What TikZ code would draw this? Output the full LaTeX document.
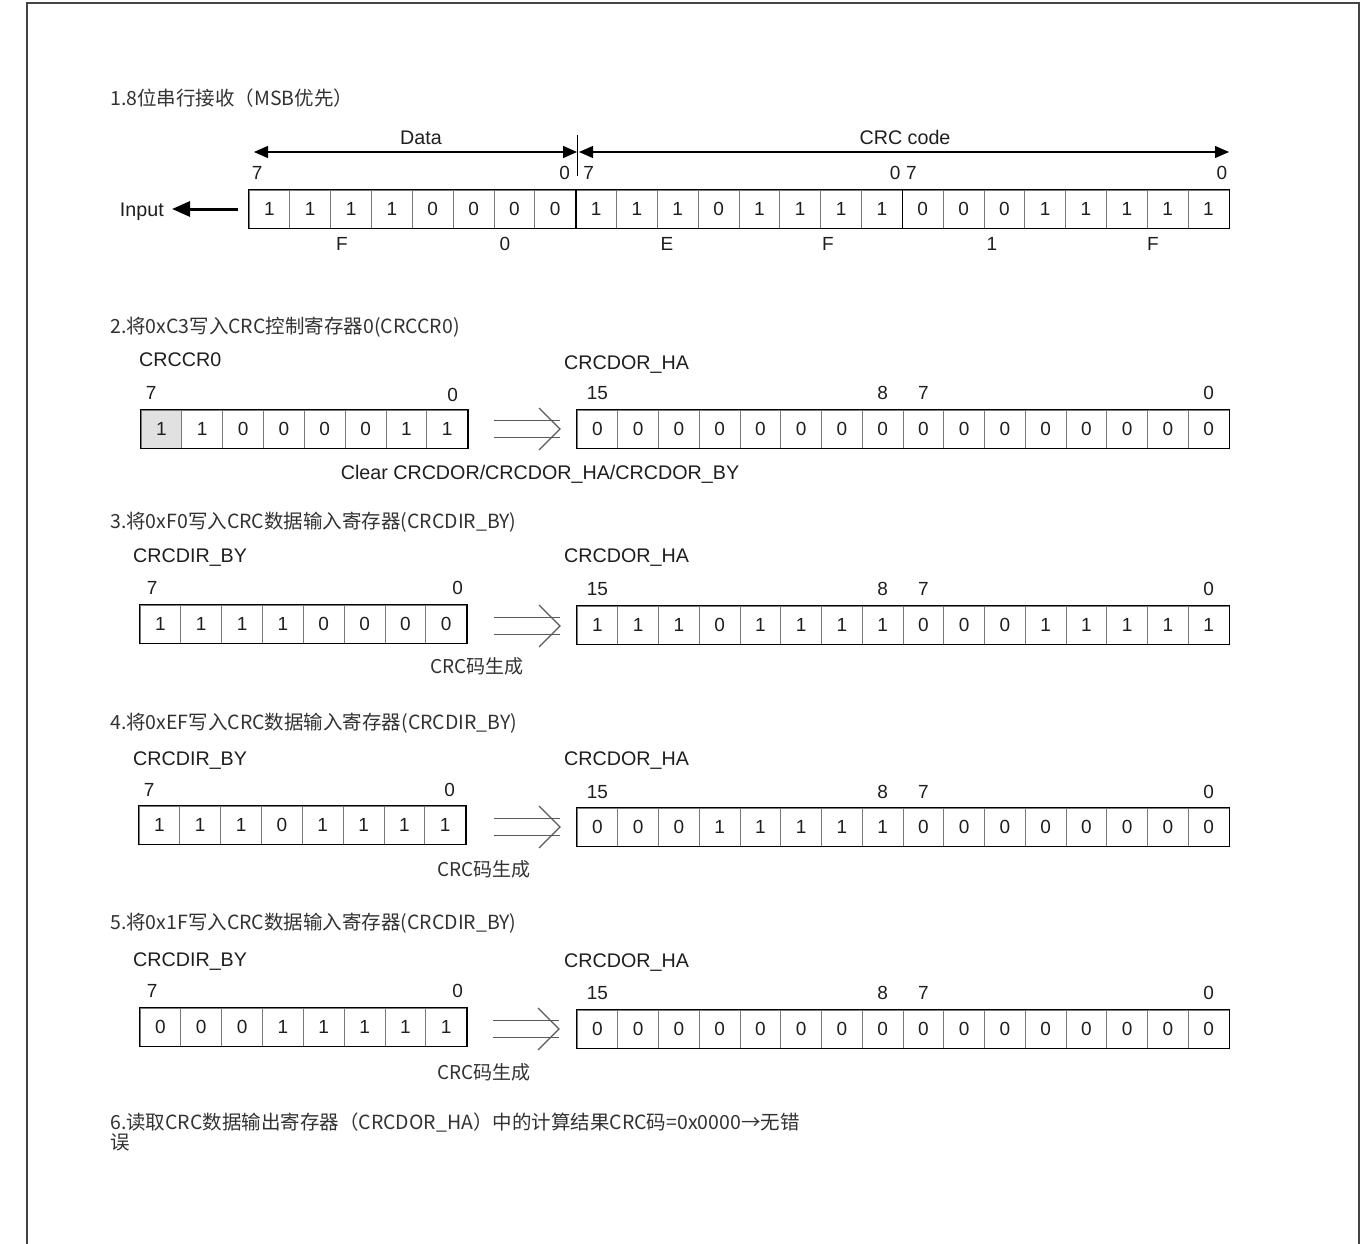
\documentclass[tikz,border=0pt]{standalone}
\usepackage{fontspec}
\setmainfont{Liberation Sans}
\newfontfamily\cjk{Noto Sans CJK SC}
\usepackage{tikz}
\usetikzlibrary{arrows.meta, positioning, calc}
\definecolor{cFrame}{RGB}{68,68,68}
\definecolor{cGrid}{RGB}{120,120,120}
\definecolor{cText}{RGB}{30,30,30}
\definecolor{cTitle}{RGB}{50,50,50}
\definecolor{cShade}{RGB}{225,225,225}
\definecolor{cImp}{RGB}{90,90,90}
\tikzset{
	pageframe/.style={draw=cFrame, line width=2pt},
	bitcell/.style={rectangle, draw=cGrid, line width=0.8pt, minimum width=40.83pt, minimum height=38pt, inner sep=0pt, text centered, font=\fontsize{19}{19}\selectfont, text=cText},
	regframe/.style={draw=black, line width=1.6pt},
	idxlabel/.style={inner sep=0pt, font=\fontsize{19}{19}\selectfont, text=cText},
	reglabel/.style={inner sep=0pt, anchor=base west, font=\fontsize{19.7}{19.7}\selectfont, text=cText},
	spanlabel/.style={inner sep=0pt, font=\fontsize{19.7}{19.7}\selectfont, text=cText},
	steptitle/.style={inner sep=0pt, anchor=base west, align=left, font=\cjk\fontsize{19.5}{20}\selectfont, text=cTitle},
	note/.style={inner sep=0pt, anchor=base, font=\cjk\fontsize{19}{20}\selectfont, text=cTitle},
	spanarrow/.style={{Triangle[length=14pt, width=12pt]}-{Triangle[length=14pt, width=12pt]}, line width=1.2pt},
	inarrow/.style={-{Triangle[length=18pt, width=15pt]}, line width=3pt},
	impline/.style={draw=cImp, line width=1.2pt},
	% open double arrow between two registers
	bigimplies/.pic={
		\draw[impline] (0,-8.5) -- (66,-8.5) (0,8.5) -- (66,8.5);
		\draw[impline] (45,-21) -- (66,0) -- (45,21);
	},
}
\begin{document}
\begin{tikzpicture}[x=1pt, y=-1pt]
	\useasboundingbox (0,0) rectangle (1370,1244);
	\draw[pageframe] (27,1244) -- (27,3) -- (1359,3) -- (1359,1244);

	% 1. serial reception
	\node[steptitle] (t1) at (110,106) {1.8位串行接收（MSB优先）};
	\foreach \b [count=\i] in {1,1,1,1,0,0,0,0,1,1,1,0,1,1,1,1,0,0,0,1,1,1,1,1}
		\node[bitcell] (s\i) at ({249+(\i-0.5)*40.83},209) {\b};
	\draw[regframe] (s1.north west) rectangle (s24.south east);
	\draw[regframe] (s8.north east) -- (s8.south east);
	\draw[regframe] (s16.north east) -- (s16.south east);
	\node[idxlabel, above right=9.5pt and 3pt of s1.north west] {7};
	\node[idxlabel, above left=9.5pt and 6pt of s8.north east] {0};
	\node[idxlabel, above right=9.5pt and 8pt of s9.north west] {7};
	\node[idxlabel, above left=9.5pt and 2pt of s16.north east] {0};
	\node[idxlabel, above right=9.5pt and 4pt of s17.north west] {7};
	\node[idxlabel, above left=9.5pt and 2pt of s24.north east] {0};
	\foreach \h/\x in {F/342, 0/505, E/667, F/828, 1/992, F/1153}
		\node[idxlabel] at (\x,244) {\h};
	\coordinate (dataL) at (254,152);
	\coordinate (split) at (577,152);
	\coordinate (crcL) at (579,152);
	\coordinate (crcR) at (1229,152);
	\draw[spanarrow] (dataL) -- (split);
	\draw[spanarrow] (crcL) -- (crcR);
	\draw[line width=0.8pt] ($(split)+(0,-17)$) -- ($(split)+(0,24)$);
	\node[spanlabel] (data) at (421,138) {Data};
	\node[spanlabel] (crc) at (905,137) {CRC code};
	\node[reglabel, anchor=base east] (input) at (164,216) {Input};
	\draw[inarrow, shorten <=11pt, shorten >=8pt] (s1.west) -- (s1.west -| input.east);

	% 2. write 0xC3 to CRCCR0
	\node[steptitle] (t2) at (110,333) {2.将0xC3写入CRC控制寄存器0(CRCCR0)};
	\node[reglabel] (ccr) at (139,366) {CRCCR0};
	\node[bitcell, fill=cShade] (a2-1) at ({141+0.5*40.83},429) {1};
	\foreach \b [count=\i from 2] in {1,0,0,0,0,1,1}
		\node[bitcell] (a2-\i) at ({141+(\i-0.5)*40.83},429) {\b};
	\draw[regframe] (a2-1.north west) rectangle (a2-8.south east);
	\node[idxlabel, above right=9.5pt and 5pt of a2-1.north west] {7};
	\node[idxlabel, above left=8pt and 10pt of a2-8.north east] {0};
	\pic at ($(a2-8.east)+(26,0)$) {bigimplies};
	\node[reglabel] (dor2) at (564,369) {CRCDOR\_HA};
	\foreach \b [count=\i] in {0,0,0,0,0,0,0,0,0,0,0,0,0,0,0,0}
		\node[bitcell] (b2-\i) at ({577+(\i-0.5)*40.75},429) {\b};
	\draw[regframe] (b2-1.north west) rectangle (b2-16.south east);
	\foreach \i/\lab in {1/15, 8/8, 9/7, 16/0}
		\node[idxlabel, above=9.5pt of b2-\i] {\lab};
	\node[spanlabel, anchor=base] (clr) at (540,479) {Clear CRCDOR/CRCDOR\_HA/CRCDOR\_BY};

	% 3. write 0xF0 to CRCDIR_BY
	\node[steptitle] (t3) at (110,528) {3.将0xF0写入CRC数据输入寄存器(CRCDIR\_BY)};
	\node[reglabel] (dir3) at (133,562) {CRCDIR\_BY};
	\foreach \b [count=\i] in {1,1,1,1,0,0,0,0}
		\node[bitcell] (a3-\i) at ({140+(\i-0.5)*40.83},624) {\b};
	\draw[regframe] (a3-1.north west) rectangle (a3-8.south east);
	\node[idxlabel, above right=9.5pt and 7pt of a3-1.north west] {7};
	\node[idxlabel, above left=9.5pt and 4pt of a3-8.north east] {0};
	\pic at ($(a3-8.east)+(27,2)$) {bigimplies};
	\node[reglabel] (dor3) at (564,562) {CRCDOR\_HA};
	\foreach \b [count=\i] in {1,1,1,0,1,1,1,1,0,0,0,1,1,1,1,1}
		\node[bitcell] (b3-\i) at ({577+(\i-0.5)*40.75},625) {\b};
	\draw[regframe] (b3-1.north west) rectangle (b3-16.south east);
	\foreach \i/\lab in {1/15, 8/8, 9/7, 16/0}
		\node[idxlabel, above=9.5pt of b3-\i] {\lab};
	\node[note] (gen3) at (477,673) {CRC码生成};

	% 4. write 0xEF to CRCDIR_BY
	\node[steptitle] (t4) at (110,729) {4.将0xEF写入CRC数据输入寄存器(CRCDIR\_BY)};
	\node[reglabel] (dir4) at (133,765) {CRCDIR\_BY};
	\foreach \b [count=\i] in {1,1,1,0,1,1,1,1}
		\node[bitcell] (a4-\i) at ({139+(\i-0.5)*40.83},825) {\b};
	\draw[regframe] (a4-1.north west) rectangle (a4-8.south east);
	\node[idxlabel, above right=8.5pt and 5pt of a4-1.north west] {7};
	\node[idxlabel, above left=8.5pt and 11pt of a4-8.north east] {0};
	\pic at ($(a4-8.east)+(28,2)$) {bigimplies};
	\node[reglabel] (dor4) at (564,765) {CRCDOR\_HA};
	\foreach \b [count=\i] in {0,0,0,1,1,1,1,1,0,0,0,0,0,0,0,0}
		\node[bitcell] (b4-\i) at ({577+(\i-0.5)*40.75},827) {\b};
	\draw[regframe] (b4-1.north west) rectangle (b4-16.south east);
	\foreach \i/\lab in {1/15, 8/8, 9/7, 16/0}
		\node[idxlabel, above=8.5pt of b4-\i] {\lab};
	\node[note] (gen4) at (484,876) {CRC码生成};

	% 5. write 0x1F to CRCDIR_BY
	\node[steptitle] (t5) at (110,929) {5.将0x1F写入CRC数据输入寄存器(CRCDIR\_BY)};
	\node[reglabel] (dir5) at (133,966) {CRCDIR\_BY};
	\foreach \b [count=\i] in {0,0,0,1,1,1,1,1}
		\node[bitcell] (a5-\i) at ({140+(\i-0.5)*40.83},1027) {\b};
	\draw[regframe] (a5-1.north west) rectangle (a5-8.south east);
	\node[idxlabel, above right=9.5pt and 7pt of a5-1.north west] {7};
	\node[idxlabel, above left=9.5pt and 4pt of a5-8.north east] {0};
	\pic at ($(a5-8.east)+(26,2)$) {bigimplies};
	\node[reglabel] (dor5) at (564,967) {CRCDOR\_HA};
	\foreach \b [count=\i] in {0,0,0,0,0,0,0,0,0,0,0,0,0,0,0,0}
		\node[bitcell] (b5-\i) at ({577+(\i-0.5)*40.75},1029) {\b};
	\draw[regframe] (b5-1.north west) rectangle (b5-16.south east);
	\foreach \i/\lab in {1/15, 8/8, 9/7, 16/0}
		\node[idxlabel, above=9.5pt of b5-\i] {\lab};
	\node[note] (gen5) at (484,1079) {CRC码生成};

	% 6. read result
	\node[steptitle, anchor=north west] (t6) at (110,1113) {6.读取CRC数据输出寄存器（CRCDOR\_HA）中的计算结果CRC码=0x0000→无错\\误};
\end{tikzpicture}
\end{document}
